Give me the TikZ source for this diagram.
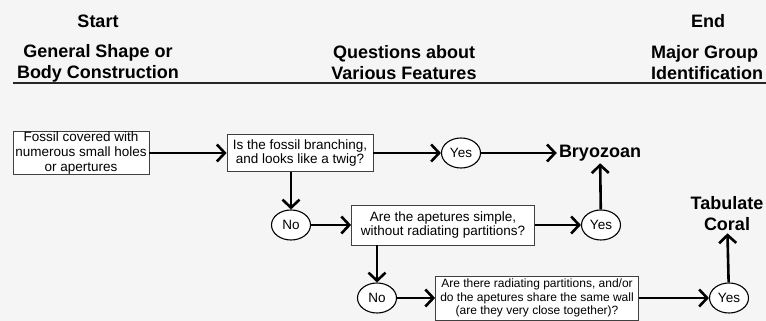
\documentclass[tikz,border=0pt]{standalone}
\usepackage{fontspec}
\setmainfont{Liberation Sans}
\usetikzlibrary{arrows.meta,shapes.geometric}

\begin{document}
\begin{tikzpicture}[x=1pt, y=-1pt,
                every node/.style={align=center, inner sep=0pt,
                            font=\fontsize{13.5}{14}\selectfont},
                box/.style={draw=black!75, line width=0.8pt, fill=white},
                answer/.style={ellipse, draw, line width=1.1pt, fill=white,
                            minimum width=39pt, minimum height=30pt,
                            font=\fontsize{13.5}{14}\selectfont},
                heading/.style={font=\bfseries\fontsize{18}{21}\selectfont},
                link/.style={line width=2.6pt,
                            -{Straight Barb[length=8pt,width=17pt]}}]
                \useasboundingbox[fill=black!4] (0,0) rectangle (766,321);

                \node[heading] (Start) at (98,21) {Start};
                \node[heading] (End) at (708,21) {End};
                \node[heading] (Shape) at (98,63) {General Shape or\\Body Construction};
                \node[heading] (Features) at (404,63) {Questions about\\Various Features};
                \node[heading, anchor=west, align=left] (Ident) at (651,63) {Major Group\\Identification};
                \draw[line width=1.8pt, black!85] (13,83) -- (766,83);

                \node[box, minimum width=136pt, minimum height=42pt,
                    font=\fontsize{13.5}{15}\selectfont] (Fossil) at (81,153)
                    {Fossil covered with\\numerous small holes\\or apertures};
                \node[box, minimum width=146pt, minimum height=37pt] (Q1) at (300,153)
                    {Is the fossil branching,\\and looks like a twig?};
                \node[box, minimum width=183pt, minimum height=40pt,
                    font=\fontsize{13.5}{12.5}\selectfont] (Q2) at (443,225)
                    {Are the apetures simple,\\without radiating partitions?};
                \node[box, minimum width=203pt, minimum height=44pt,
                    font=\fontsize{12}{13.5}\selectfont] (Q3) at (537,298)
                    {Are there radiating partitions, and/or\\do the apetures share the same wall\\(are they very close together)?};

                \node[answer] (Yes1) at (461,153) {Yes};
                \node[answer] (No1) at (291,225) {No};
                \node[answer] (Yes2) at (601,225) {Yes};
                \node[answer] (No2) at (377,298) {No};
                \node[answer] (Yes3) at (729,298) {Yes};

                \node[heading, inner sep=2pt] (Bryo) at (600,153) {Bryozoan};
                \node[heading, inner sep=2pt] (Tab) at (727,214) {Tabulate\\Coral};

                \foreach \i/\j in {Fossil/Q1, Q1/Yes1, Yes1/Bryo,
                        No1/Q2, Q2/Yes2, Yes2/Bryo,
                        No2/Q3, Q3/Yes3, Yes3/Tab} {
                        \draw[link] (\i) -- (\j);
                    }
                \draw[link] (Q1.south -| No1) -- (No1);
                \draw[link] (Q2.south -| No2) -- (No2);
\end{tikzpicture}
\end{document}
